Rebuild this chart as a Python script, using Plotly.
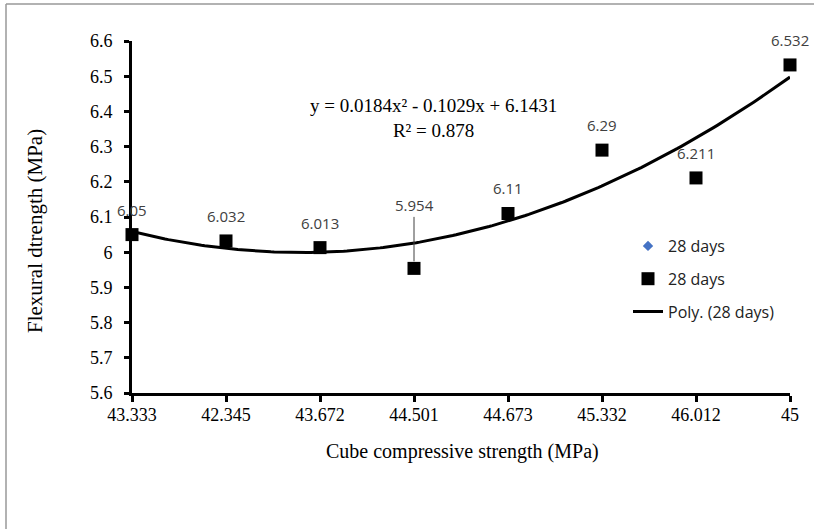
import numpy as np
import plotly.graph_objects as go

# ---- data ----
categories = ["43.333", "42.345", "43.672", "44.501", "44.673", "45.332", "46.012", "45"]
flexural = [6.05, 6.032, 6.013, 5.954, 6.11, 6.29, 6.211, 6.532]
poly_coef = [0.0184, -0.1029, 6.1431]   # y = a x^2 + b x + c (x = category index)
r_squared = 0.878
y_ticks = [5.6, 5.7, 5.8, 5.9, 6.0, 6.1, 6.2, 6.3, 6.4, 6.5, 6.6]
y_tick_text = ["5.6", "5.7", "5.8", "5.9", "6", "6.1", "6.2", "6.3", "6.4", "6.5", "6.6"]

xpos = list(range(1, len(categories) + 1))
xs = np.linspace(1, len(categories), 200)
trend = poly_coef[0] * xs ** 2 + poly_coef[1] * xs + poly_coef[2]

# layout geometry (pixels)
W, H = 814, 529
L, R, T, B = 132, 24, 41, 136
PW, PH = W - L - R, H - T - B

def px(xp):
    return (xp - L) / PW

def py(yp):
    return (H - B - yp) / PH

serif = "Liberation Serif"
sans = "Open Sans"

fig = go.Figure()
fig.add_trace(go.Scatter(
    x=xpos, y=flexural, mode="markers", name="28 days",
    marker=dict(symbol="diamond", size=8, color="#4472C4"),
    legendgroup="a", cliponaxis=False))
fig.add_trace(go.Scatter(
    x=xpos, y=flexural, mode="markers", name="28 days",
    marker=dict(symbol="square", size=13, color="black"),
    legendgroup="b", cliponaxis=False))
fig.add_trace(go.Scatter(
    x=xs, y=trend, mode="lines", name="Poly. (28 days)",
    line=dict(color="black", width=3),
    legendgroup="c", cliponaxis=False))

annotations = []
for i, (xv, yv) in enumerate(zip(xpos, flexural)):
    label = f"{yv:g}"
    if i == 3:
        annotations.append(dict(
            x=xv, y=yv, xref="x", yref="y", text=label, showarrow=True,
            arrowhead=0, arrowwidth=1, arrowcolor="#404040", ax=0, ay=-63,
            standoff=7, font=dict(family=sans, size=15, color="#404040")))
    else:
        annotations.append(dict(
            x=xv, y=yv, xref="x", yref="y", text=label, showarrow=False,
            yshift=25, font=dict(family=sans, size=15, color="#404040")))

eq = (f"y = {poly_coef[0]:.4f}x² - {abs(poly_coef[1]):.4f}x + {poly_coef[2]:.4f}"
      f"<br>R² = {r_squared:.3f}")
annotations.append(dict(
    x=px(433), y=py(118), xref="paper", yref="paper", text=eq, showarrow=False,
    xanchor="center", yanchor="middle",
    align="center", font=dict(family=serif, size=19, color="black")))
annotations.append(dict(
    x=px(462), y=py(451), xref="paper", yref="paper",
    xanchor="center", yanchor="middle",
    text="Cube compressive strength (MPa)", showarrow=False,
    font=dict(family=serif, size=20, color="black")))
annotations.append(dict(
    x=px(35), y=py(231), xref="paper", yref="paper",
    xanchor="center", yanchor="middle",
    text="Flexural dtrength (MPa)", showarrow=False, textangle=-90,
    font=dict(family=serif, size=21, color="black")))

shapes = [
    dict(type="line", xref="paper", yref="paper", x0=px(6), x1=px(900),
         y0=py(4), y1=py(4), line=dict(color="#999999", width=1.5)),
    dict(type="line", xref="paper", yref="paper", x0=px(6), x1=px(6),
         y0=py(4), y1=py(700), line=dict(color="#999999", width=1.5)),
]

tick_font = dict(family=serif, size=18, color="black")

fig.update_layout(
    width=W, height=H,
    margin=dict(l=L, r=R, t=T, b=B),
    font=dict(family=serif, size=18, color="black"),
    paper_bgcolor="white", plot_bgcolor="white",
    showlegend=True,
    legend=dict(x=px(628), y=py(229), xanchor="left", yanchor="top",
                traceorder="grouped", tracegroupgap=9,
                font=dict(family=sans, size=16, color="#222222"),
                bgcolor="rgba(0,0,0,0)"),
    annotations=annotations,
    shapes=shapes,
    xaxis=dict(range=[1, len(categories)], tickmode="array", tickvals=xpos,
               ticktext=categories, showgrid=False, zeroline=False,
               showline=True, linecolor="black", linewidth=3,
               ticks="outside", ticklen=6, tickwidth=3, tickcolor="black",
               ticklabelstandoff=-3),
    yaxis=dict(range=[5.6, 6.6], tickmode="array", tickvals=y_ticks,
               ticktext=y_tick_text, showgrid=False, zeroline=False,
               showline=True, linecolor="black", linewidth=3,
               ticks="outside", ticklen=5, tickwidth=3, tickcolor="black",
               ticklabelstandoff=8),
)
fig.update_xaxes(tickfont=tick_font)
fig.update_yaxes(tickfont=tick_font)

fig.write_html("out.html")
